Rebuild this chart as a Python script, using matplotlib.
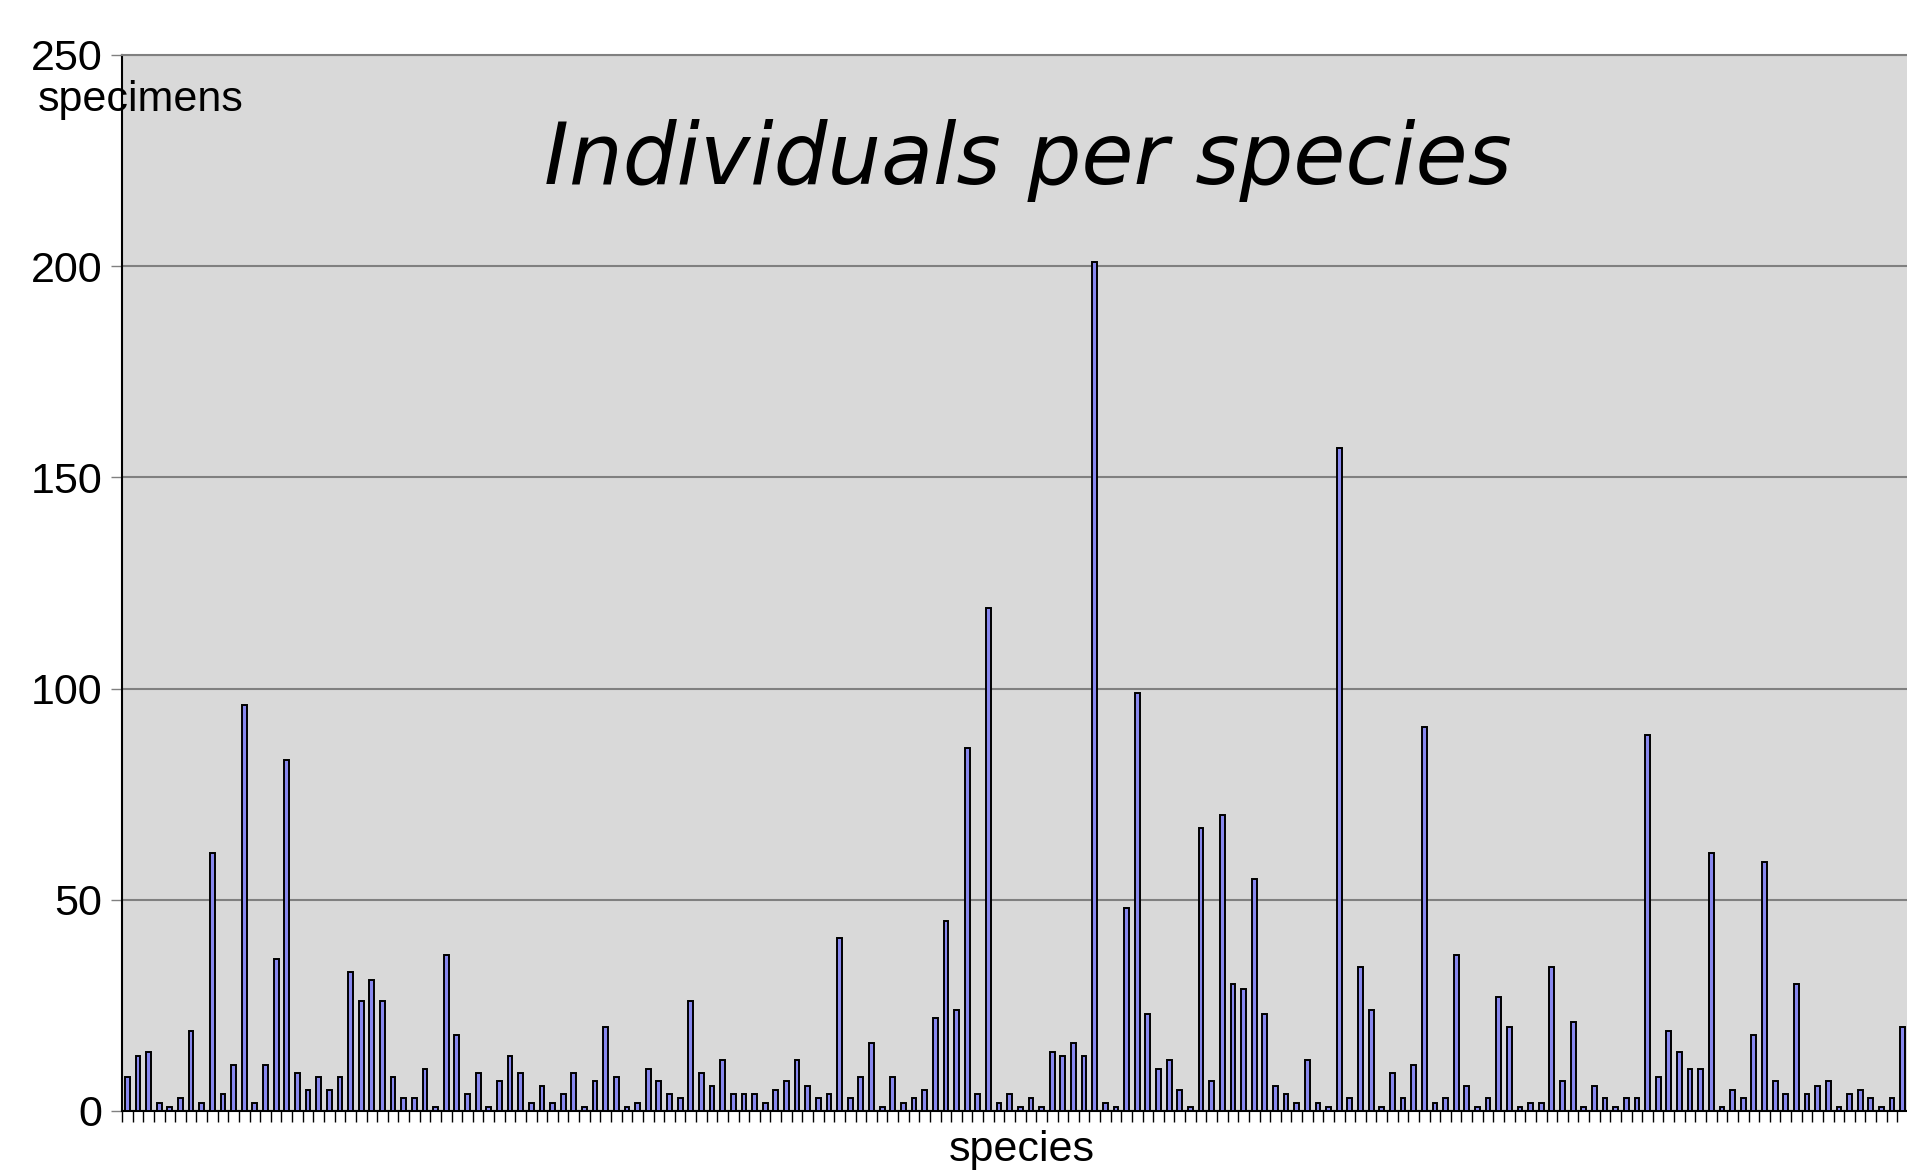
import matplotlib
matplotlib.use('Agg')
import matplotlib.pyplot as plt

# specimens counted per species, left to right
counts = [8, 13, 14, 2, 1, 3, 19, 2, 61, 4, 11, 96, 2, 11, 36, 83, 9, 5, 8, 5,
          8, 33, 26, 31, 26, 8, 3, 3,
          10, 1, 37, 18, 4, 9, 1, 7, 13, 9, 2, 6, 2, 4, 9, 1, 7, 20, 8, 1, 2, 10,
          7, 4, 3, 26, 9,
          6, 12, 4, 4, 4, 2, 5, 7, 12, 6, 3, 4, 41, 3, 8, 16, 1, 8, 2, 3, 5, 22,
          45, 24, 86, 4, 119,
          2, 4, 1, 3, 1, 14, 13, 16, 13, 201, 2, 1, 48, 99, 23, 10, 12, 5, 1, 67,
          7, 70, 30, 29, 55, 23, 6,
          4, 2, 12, 2, 1, 157, 3, 34, 24, 1, 9, 3, 11, 91, 2, 3, 37, 6, 1, 3, 27,
          20, 1, 2, 2, 34, 7, 21,
          1, 6, 3, 1, 3, 3, 89, 8, 19, 14, 10, 10, 61, 1, 5, 3, 18, 59, 7, 4, 30,
          4, 6, 7, 1, 4, 5, 3, 1, 3, 20]
species = list(range(len(counts)))
y_ticks = [0, 50, 100, 150, 200, 250]

plt.rcParams['font.family'] = ['Liberation Sans', 'DejaVu Sans']

fig = plt.figure(figsize=(19.08, 11.70), dpi=100)
ax = fig.add_axes([122 / 1908, 59 / 1170, 1 - 122 / 1908, 1056 / 1170])
ax.set_facecolor('#d9d9d9')

ax.bar(species, counts, width=0.45, color='#8888ee', edgecolor='black',
       linewidth=1.4, zorder=3)

ax.set_ylim(0, 250)
ax.set_xlim(-0.5, 167.28)
ax.set_yticks(y_ticks)
ax.set_yticklabels([str(t) for t in y_ticks], fontsize=31)
ax.set_xticks([i - 0.5 for i in range(len(counts) + 1)])
ax.set_xticklabels([])
ax.tick_params(axis='x', length=8, width=1, color='black', direction='out')
ax.tick_params(axis='y', length=8, width=1, color='#808080', pad=6)

ax.yaxis.grid(True, color='#808080', linewidth=1.5, zorder=1)
ax.set_axisbelow(True)
ax.spines['top'].set_color('#808080')
ax.spines['top'].set_linewidth(1.5)
ax.spines['right'].set_visible(False)
ax.spines['left'].set_color('black')
ax.spines['left'].set_linewidth(1.5)
ax.spines['bottom'].set_color('black')
ax.spines['bottom'].set_linewidth(1.5)

fig.text(1022 / 1908, 1 - 1150 / 1170, 'species', fontsize=31, ha='center', va='center')
fig.text(38 / 1908, 1 - 100 / 1170, 'specimens', fontsize=31, ha='left', va='center')
fig.text(1028 / 1908, 1 - 160 / 1170, 'Individuals per species', fontsize=61,
         style='italic', family='DejaVu Sans', ha='center', va='center')

plt.savefig('out.png', dpi=100)
